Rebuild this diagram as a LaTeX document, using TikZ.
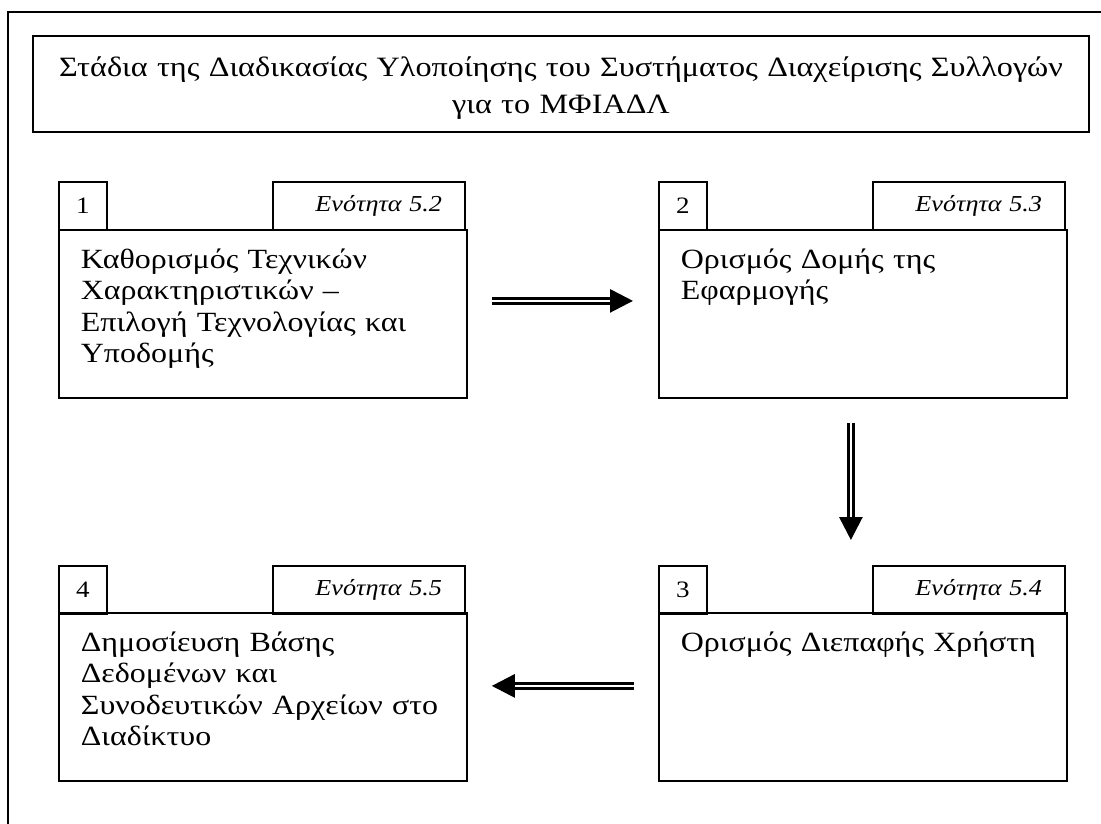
\documentclass[tikz,border=0pt]{standalone}
\usepackage{fontspec}
\setmainfont[FakeStretch=1.15]{Liberation Serif}
\usetikzlibrary{arrows.meta,positioning,calc}

\begin{document}
\begin{tikzpicture}[
    x=1pt, y=-1pt,
    line width=1.8pt,
    titlebox/.style={draw, minimum width=1056pt, minimum height=96pt, inner sep=0pt},
    titletext/.style={text width=1040pt, align=center, inner sep=0pt, font=\fontsize{28}{37}\selectfont},
    numcell/.style={draw, minimum width=48pt, minimum height=48pt, inner sep=0pt, font=\fontsize{23.5}{26}\selectfont},
    seccell/.style={draw, minimum width=192pt, minimum height=48pt, text width=146pt, align=right, inner sep=0pt, font=\fontsize{22.8}{26}\selectfont\itshape},
    body/.style={draw, minimum width=408pt, minimum height=168pt, inner sep=0pt},
    bodytext/.style={text width=380pt, align=left, inner sep=0pt, font=\fontsize{27.8}{31.5}\selectfont},
    dblarrow/.style={double, double distance=2.4pt, line width=2.8pt, -{Triangle[length=23pt, width=23pt]}}
]
    \useasboundingbox (0,0) rectangle (1101,824);
    \draw (8,824) -- (8,12) -- (1101,12);

    \node[titlebox] (title) at (561,84) {};
    \node[titletext, anchor=base] (ttl) at (561,77) {Στάδια της Διαδικασίας Υλοποίησης του Συστήματος Διαχείρισης Συλλογών\\για το ΜΦΙΑΔΛ};

    % stage 1
    \node[numcell, anchor=north west] (n1) at (58,181) {1};
    \node[seccell, anchor=north east] (s1) at (466,181) {Ενότητα 5.2};
    \node[body, anchor=north west] (b1) at (58,229) {};
    \node[bodytext, anchor=base west] (t1) at ($(b1.north west)+(22,39)$) {Καθορισμός Τεχνικών\\Χαρακτηριστικών –\\Επιλογή Τεχνολογίας και\\Υποδομής};

    % stage 2
    \node[numcell, anchor=north west] (n2) at (658,181) {2};
    \node[seccell, anchor=north east] (s2) at (1066,181) {Ενότητα 5.3};
    \node[body, anchor=north west] (b2) at (658,229) {};
    \node[bodytext, anchor=base west] (t2) at ($(b2.north west)+(22,39)$) {Ορισμός Δομής της\\Εφαρμογής};

    % stage 3
    \node[numcell, anchor=north west] (n3) at (658,565) {3};
    \node[seccell, anchor=north east] (s3) at (1066,565) {Ενότητα 5.4};
    \node[body, anchor=north west] (b3) at (658,612) {};
    \node[bodytext, anchor=base west] (t3) at ($(b3.north west)+(22,39)$) {Ορισμός Διεπαφής Χρήστη};

    % stage 4
    \node[numcell, anchor=north west] (n4) at (58,565) {4};
    \node[seccell, anchor=north east] (s4) at (466,565) {Ενότητα 5.5};
    \node[body, anchor=north west] (b4) at (58,612) {};
    \node[bodytext, anchor=base west] (t4) at ($(b4.north west)+(22,39)$) {Δημοσίευση Βάσης\\Δεδομένων και\\Συνοδευτικών Αρχείων στο\\Διαδίκτυο};

    \draw[dblarrow] ($(b1.east)+(24,-13)$) -- ($(b2.west)+(-25,-13)$);
    \draw[dblarrow] ($(b2.south)+(-12,24)$) -- ($(b3.north)+(-12,-72)$);
    \draw[dblarrow] ($(b3.west)+(-24,-11)$) -- ($(b4.east)+(24,-11)$);
\end{tikzpicture}
\end{document}
